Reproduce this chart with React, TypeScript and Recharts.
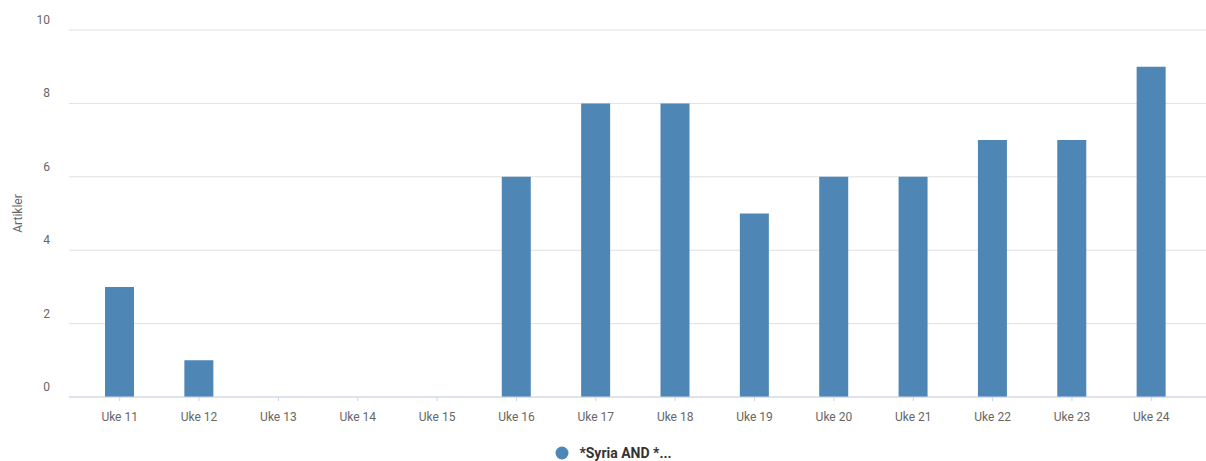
import React from "react";
import { BarChart, Bar, XAxis, YAxis, CartesianGrid, Legend } from "recharts";

const weeks = [
  "Uke 11", "Uke 12", "Uke 13", "Uke 14", "Uke 15", "Uke 16", "Uke 17",
  "Uke 18", "Uke 19", "Uke 20", "Uke 21", "Uke 22", "Uke 23", "Uke 24",
];
const articles = [3, 1, 0, 0, 0, 6, 8, 8, 5, 6, 6, 7, 7, 9];
const yTicks = [0, 2, 4, 6, 8, 10];
const seriesName = "*Syria AND *...";
const barColor = "#4e86b5";

const data = weeks.map((w, i) => ({ week: w, value: articles[i] }));

const YTick = (props: any) => {
  const { x, y, payload } = props;
  return (
    <text x={x} y={y - 6} textAnchor="end" fontSize={12} fill="#666">
      {payload.value}
    </text>
  );
};

const YTitle = (props: any) => {
  const { viewBox } = props;
  const cy = viewBox.y + viewBox.height / 2;
  return (
    <text
      x={22}
      y={cy}
      transform={`rotate(-90, 22, ${cy})`}
      textAnchor="middle"
      fontSize={12}
      fill="#666"
    >
      Artikler
    </text>
  );
};

const LegendContent = () => (
  <div
    style={{
      height: 30,
      display: "flex",
      justifyContent: "center",
      alignItems: "center",
      paddingLeft: 21,
      paddingTop: 14,
      boxSizing: "border-box",
    }}
  >
    <svg width={14} height={14} style={{ marginRight: 10 }}>
      <circle cx={7} cy={7} r={6.5} fill={barColor} />
    </svg>
    <span style={{ fontSize: 14, fontWeight: 700, color: "#333" }}>{seriesName}</span>
  </div>
);

export default function App() {
  return (
    <div style={{ position: "absolute", left: 0, top: 0, fontFamily: "Roboto, sans-serif" }}>
      <BarChart
        width={1206}
        height={461}
        data={data}
        margin={{ top: 30, right: 0, bottom: 0, left: 0 }}
      >
        <CartesianGrid vertical={false} stroke="#e0e0e0" />
        <XAxis
          dataKey="week"
          padding={{ left: 11, right: 15 }}
          height={34}
          tickSize={4}
          tickMargin={11}
          tick={{ fontSize: 12, fill: "#666" }}
          stroke="#ccd6eb"
          interval={0}
        />
        <YAxis
          width={69}
          domain={[0, 10]}
          ticks={yTicks}
          axisLine={false}
          tickLine={false}
          tickMargin={13}
          tick={<YTick />}
          label={<YTitle />}
        />
        <Legend verticalAlign="bottom" content={<LegendContent />} />
        <Bar dataKey="value" name={seriesName} fill={barColor} barSize={29} isAnimationActive={false} />
      </BarChart>
    </div>
  );
}
